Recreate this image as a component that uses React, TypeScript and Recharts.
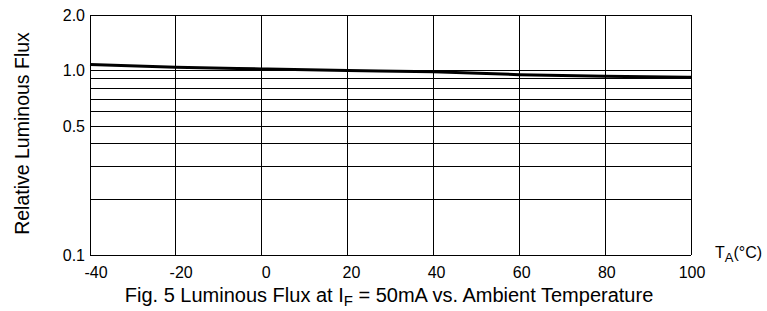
import { LineChart, Line, XAxis, YAxis, ReferenceLine } from 'recharts';

const temps = [-40, -20, 0, 20, 40, 60, 80, 100];
const flux = [1.078, 1.042, 1.02, 1.0, 0.984, 0.95, 0.93, 0.92];
const yTicks = [0.1, 0.5, 1, 2];
const yGrid = [0.2, 0.3, 0.4, 0.5, 0.6, 0.7, 0.8, 0.9, 1.0, 2];
const xGrid = [-20, 0, 20, 40, 60, 80, 100];

const data = temps.map((t, i) => ({ t, flux: flux[i] }));

const FONT = '"Liberation Sans", Arial, Helvetica, sans-serif';

function XTick({ x, y, payload }: any) {
  const v = payload.value as number;
  const dx = 6 - ((v + 40) / 140) * 5;
  return (
    <text x={x + dx} y={y} dy="0.71em" textAnchor="middle" fontSize={16} fill="#000" fontFamily={FONT}>
      {v}
    </text>
  );
}

function fmtY(v: number) {
  return v.toFixed(1);
}

export default function App() {
  return (
    <div style={{ position: 'absolute', left: 0, top: 0, width: 767, height: 311, background: '#fff', fontFamily: FONT }}>
      <LineChart width={767} height={311} data={data} margin={{ top: 15, right: 76, bottom: 26, left: 50 }}>
        <XAxis
          dataKey="t"
          type="number"
          domain={[-40, 100]}
          ticks={temps}
          tick={<XTick />}
          tickLine={false}
          tickSize={0}
          tickMargin={12}
          height={30}
          axisLine={{ stroke: '#000', strokeWidth: 1, shapeRendering: 'crispEdges' }}
          interval={0}
        />
        <YAxis
          type="number"
          scale="log"
          domain={[0.1, 2]}
          allowDataOverflow
          ticks={yTicks}
          tickFormatter={fmtY}
          tickLine={false}
          tickSize={0}
          tickMargin={5}
          width={40}
          interval={0}
          axisLine={{ stroke: '#000', strokeWidth: 1, shapeRendering: 'crispEdges' }}
          tick={{ fill: '#000', fontSize: 16, fontFamily: FONT }}
        />
        {yGrid.map((v) => (
          <ReferenceLine key={'y' + v} y={v} stroke="#000" strokeWidth={1} shapeRendering="crispEdges" />
        ))}
        {xGrid.map((v) => (
          <ReferenceLine key={'x' + v} x={v} stroke="#000" strokeWidth={1} shapeRendering="crispEdges" />
        ))}
        <Line
          type="monotone"
          dataKey="flux"
          stroke="#000"
          strokeWidth={3}
          dot={false}
          isAnimationActive={false}
        />
      </LineChart>
      <svg width={767} height={311} style={{ position: 'absolute', left: 0, top: 0, pointerEvents: 'none' }}>
        <text
          x={29}
          y={133.5}
          transform="rotate(-90 29 133.5)"
          textAnchor="middle"
          fontSize={19.5}
          fill="#000"
          fontFamily={FONT}
        >
          Relative Luminous Flux
        </text>
        <text x={715} y={258} fontSize={16} fill="#000" fontFamily={FONT}>
          T<tspan fontSize={13} dy={4}>A</tspan>
          <tspan dy={-4}>(°C)</tspan>
        </text>
        <text x={389} y={302} textAnchor="middle" fontSize={20} fill="#000" fontFamily={FONT}>
          Fig. 5 Luminous Flux at I<tspan fontSize={15} dy={4}>F</tspan>
          <tspan dy={-4}> = 50mA vs. Ambient Temperature</tspan>
        </text>
      </svg>
    </div>
  );
}
